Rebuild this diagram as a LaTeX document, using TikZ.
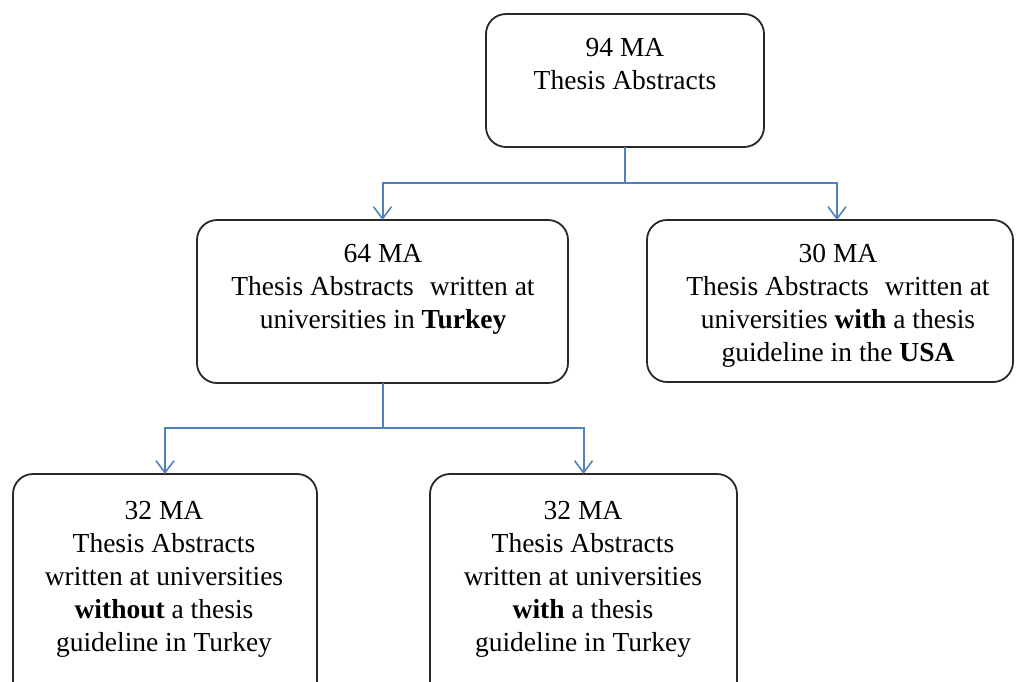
\documentclass[tikz,border=0pt]{standalone}
\usepackage{fontspec}
\setmainfont{Liberation Serif}
\usetikzlibrary{arrows.meta}
\definecolor{connblue}{RGB}{79,129,189}
\definecolor{boxline}{RGB}{40,40,40}
\tikzset{
  box/.style={draw=boxline, line width=1.8pt, rounded corners=20pt, inner sep=0pt, outer sep=0pt},
  txt/.style={align=center, inner sep=0pt, outer sep=0pt, anchor=north, font=\fontsize{27.5}{33}\selectfont},
  conn/.style={draw=connblue, line width=2pt, -{Straight Barb[length=12pt,width=18pt,line width=1.6pt]}},
  connplain/.style={draw=connblue, line width=2pt}
}
\begin{document}
\begin{tikzpicture}[x=1pt,y=-1pt]
\useasboundingbox (0,0) rectangle (1017,681);
\clip (0,0) rectangle (1017,681);
% boxes
\node[box, minimum width=278, minimum height=133] (top) at (625,80.5) {};
\node[box, minimum width=371, minimum height=163] (ml) at (382.5,301.5) {};
\node[box, minimum width=366, minimum height=162] (mr) at (830,301) {};
\node[box, minimum width=304, minimum height=250] (bl) at (165,599) {};
\node[box, minimum width=307, minimum height=250] (bm) at (583.5,599) {};
% texts
\node[txt] (toptxt) at (625,38) {94 MA\\Thesis Abstracts};
\node[txt] (mltxt) at (383,244) {64 MA\\Thesis Abstracts\,\, written at\\universities in \textbf{Turkey}};
\node[txt] (mrtxt) at (838,244) {30 MA\\Thesis Abstracts\,\, written at\\universities \textbf{with} a thesis\\guideline in the \textbf{USA}};
\node[txt] (bltxt) at (164,501) {32 MA\\Thesis Abstracts\\written at universities\\\textbf{without} a thesis\\guideline in Turkey};
\node[txt] (bmtxt) at (583,501) {32 MA\\Thesis Abstracts\\written at universities\\\textbf{with} a thesis\\guideline in Turkey};
% connectors
\coordinate (j1) at (625,183);
\coordinate (j2) at (382.5,428);
\draw[connplain] (top.south) -- (j1);
\draw[conn] (j1) -| (ml.north);
\draw[conn] (j1) -| ([xshift=7pt]mr.north);
\draw[connplain] (ml.south) -- (j2);
\draw[conn] (j2) -| (bl.north);
\draw[conn] (j2) -| (bm.north);
\end{tikzpicture}
\end{document}
